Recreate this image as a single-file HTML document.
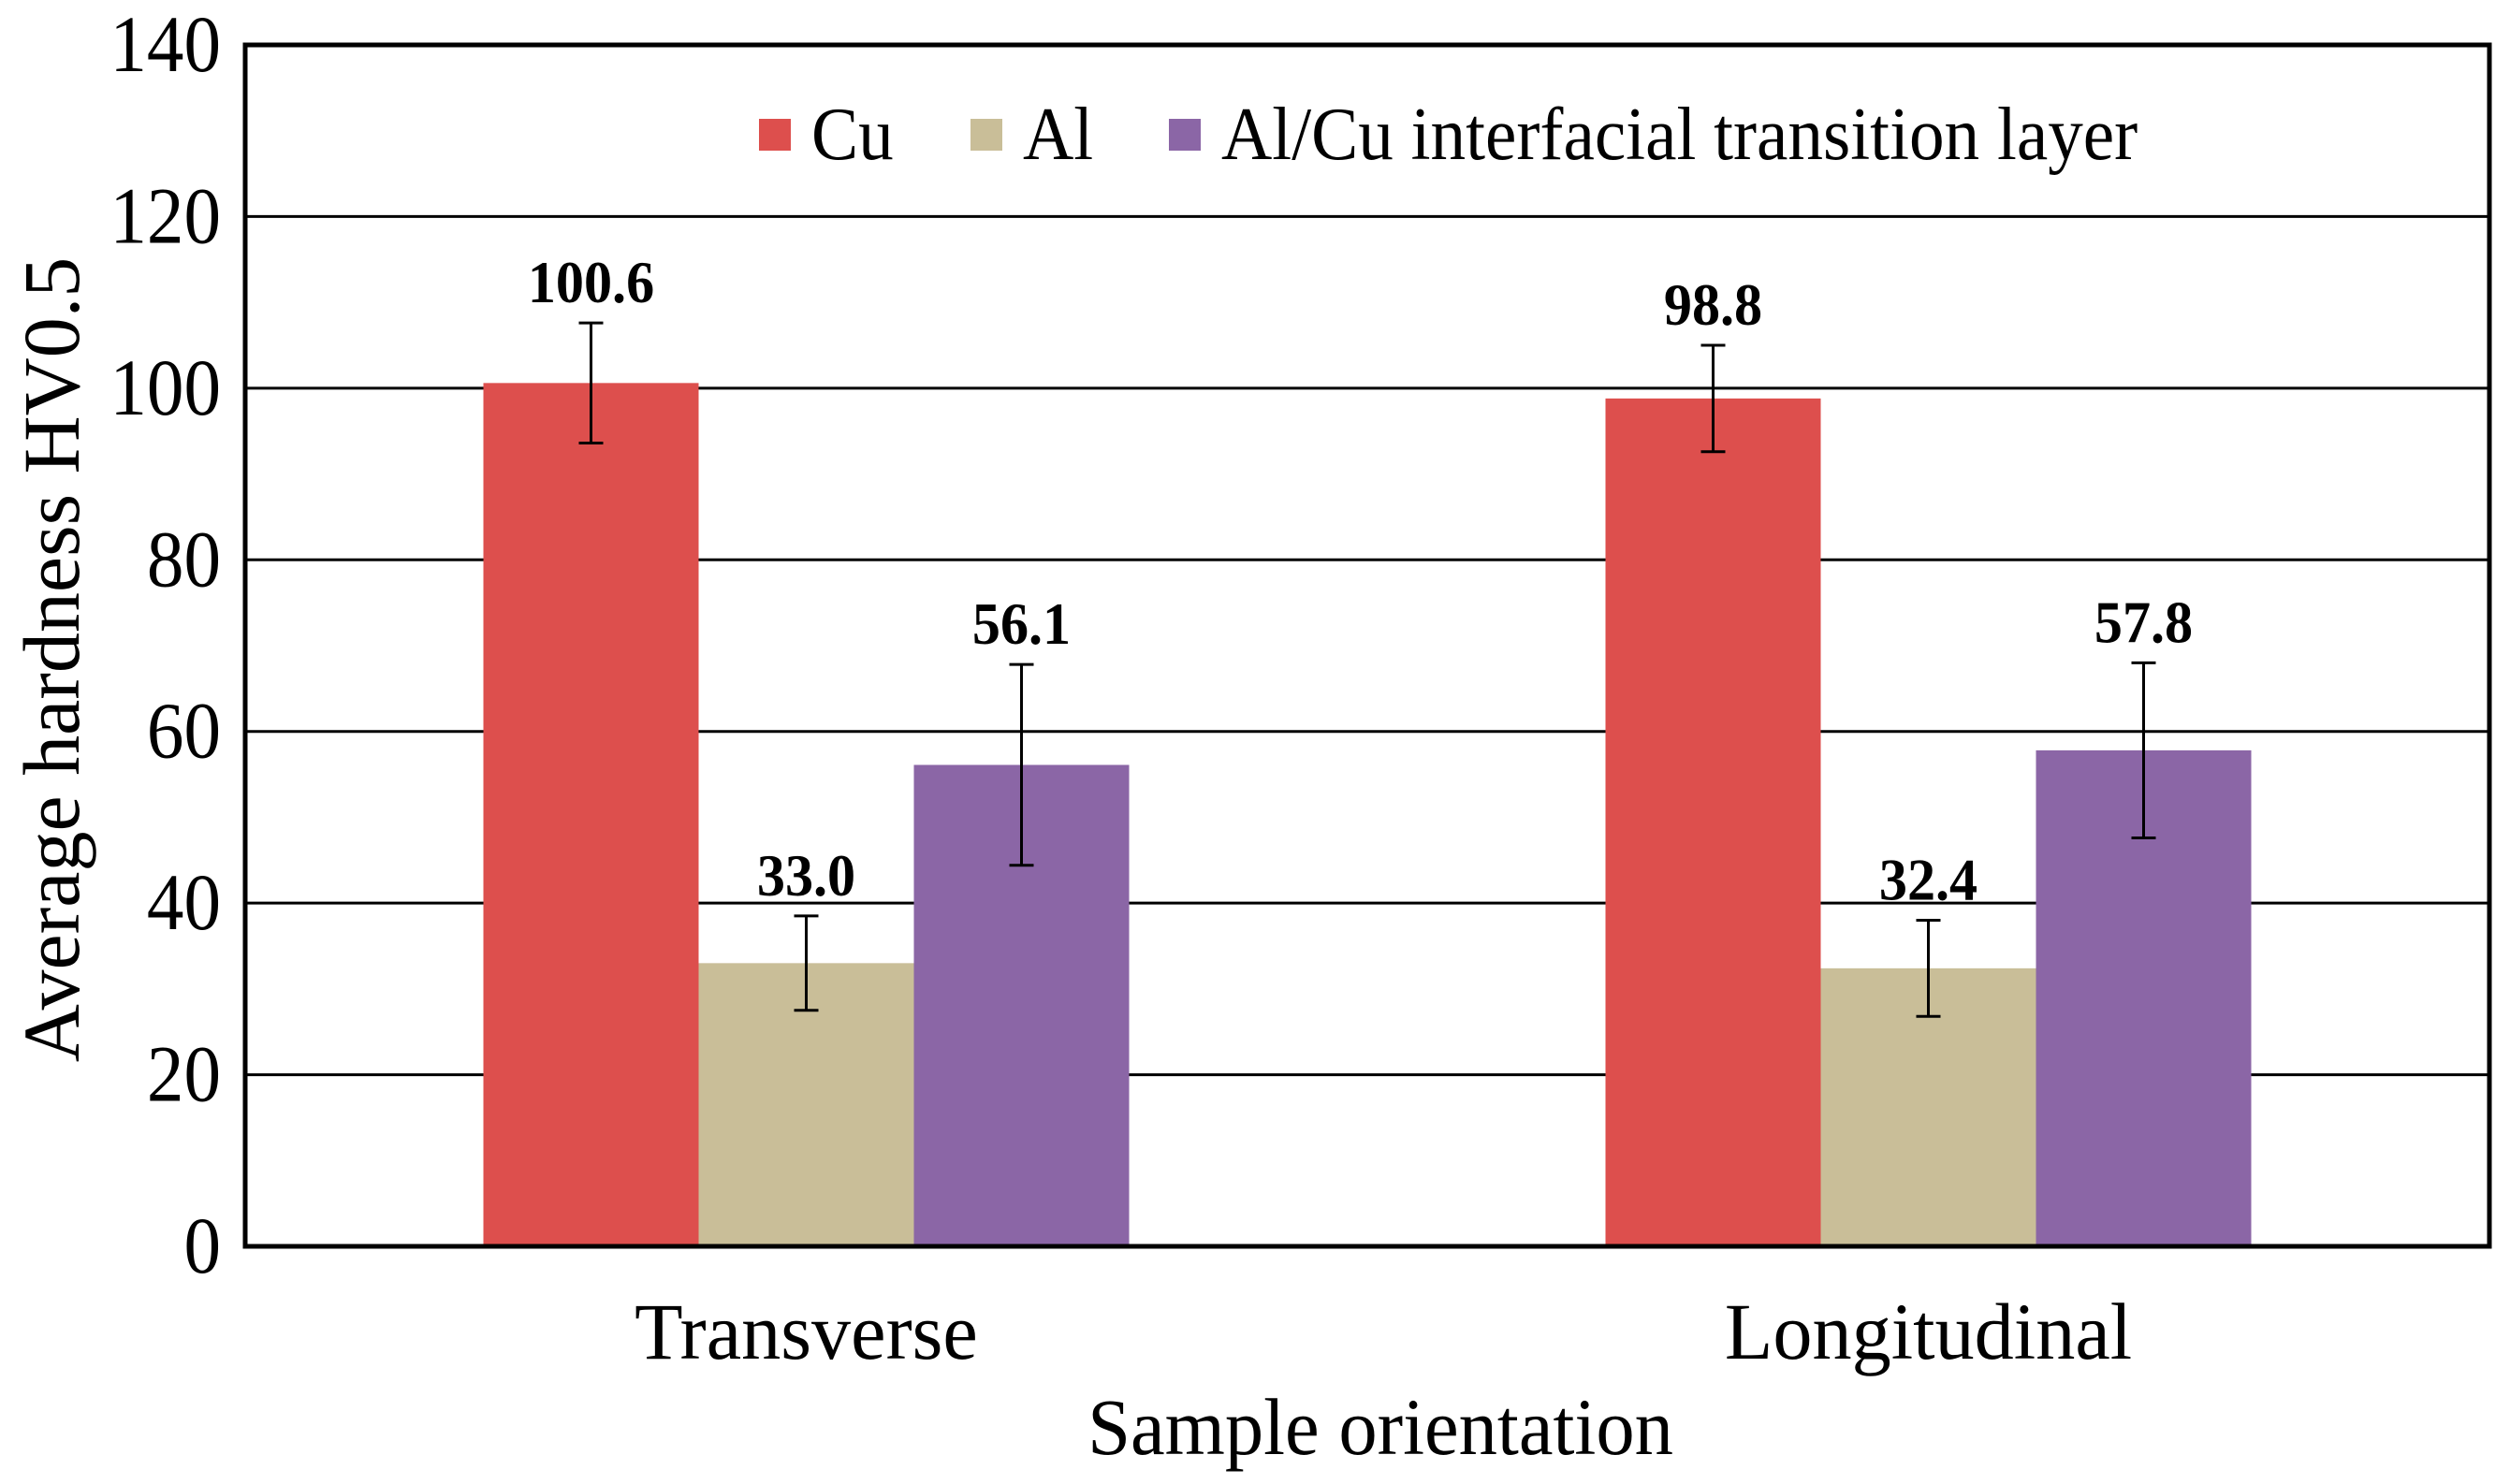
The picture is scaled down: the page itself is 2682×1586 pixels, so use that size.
<!DOCTYPE html>
<html><head><meta charset="utf-8"><style>
html,body{margin:0;padding:0;background:#fff;}
svg{display:block;}
text{font-family:"Liberation Serif","Times New Roman",serif;fill:#000;}
</style></head><body>
<svg id="chart" width="2682" height="1586" viewBox="0 0 2682 1586" xmlns="http://www.w3.org/2000/svg"></svg>
<script>
const categories = ["Transverse", "Longitudinal"];
const seriesNames = ["Cu", "Al", "Al/Cu interfacial transition layer"];
const cuValues = [100.6, 98.8];
const alValues = [33.0, 32.4];
const layerValues = [56.1, 57.8];
const cuErrors = [7.0, 6.2];
const alErrors = [5.5, 5.6];
const layerErrors = [11.7, 10.2];
const yTicks = [0, 20, 40, 60, 80, 100, 120, 140];

const colors = ["#DD4F4D", "#C9BE98", "#8B66A6"];
const NS = "http://www.w3.org/2000/svg";
const svg = document.getElementById("chart");
const L = 262, R = 2660, T = 48, B = 1332;
const yMax = 140;
function yScale(v){ return B - (v / yMax) * (B - T); }
const groupW = (R - L) / categories.length;
const barW = 230;
function barX(ci, si){ return L + groupW * ci + groupW / 2 - 1.5 * barW + si * barW; }

function el(tag, attrs, parent){
  const e = document.createElementNS(NS, tag);
  for (const k in attrs) e.setAttribute(k, attrs[k]);
  (parent || svg).appendChild(e);
  return e;
}
function txt(s, x, y, size, opts, parent){
  opts = opts || {};
  const g = el("g", {transform: "translate(" + x + "," + y + ") scale(" + (opts.sx || 1) + ",1)" + (opts.rot ? " rotate(" + opts.rot + ")" : "")}, parent);
  const t = el("text", {x: 0, y: 0, "font-size": size, "text-anchor": opts.anchor || "start", "font-weight": opts.bold ? "bold" : "normal"}, g);
  t.textContent = s;
  return g;
}

yTicks.forEach(v => {
  if (v === 0 || v === yMax) return;
  const ln = el("line", {x1: L, x2: R, y1: yScale(v), y2: yScale(v), stroke: "#000", "stroke-width": 3});
  
  
});
yTicks.forEach(v => {
  const g = txt(String(v), 236, yScale(v) + 28, 86, {anchor: "end", sx: 0.92});
  
  
});

const allVals = [cuValues, alValues, layerValues];
const allErr = [cuErrors, alErrors, layerErrors];
categories.forEach((c, ci) => {
  allVals.forEach((vals, si) => {
    const v = vals[ci];
    const x = barX(ci, si);
    const r = el("rect", {x: x, y: yScale(v), width: barW, height: B - yScale(v), fill: colors[si]});
    
    
    const cx = x + barW / 2, e = allErr[si][ci];
    const eg = el("g", {stroke: "#000", "stroke-width": 3});
    
    
    el("line", {x1: cx, x2: cx, y1: yScale(v + e), y2: yScale(v - e)}, eg);
    el("line", {x1: cx - 13, x2: cx + 13, y1: yScale(v + e), y2: yScale(v + e)}, eg);
    el("line", {x1: cx - 13, x2: cx + 13, y1: yScale(v - e), y2: yScale(v - e)}, eg);
    const lb = txt(v.toFixed(1), cx, yScale(v + e) - 22, 64, {anchor: "middle", bold: true, sx: 0.94});
    
    
  });
  const cl = txt(c, L + groupW * ci + groupW / 2, 1452, 86, {anchor: "middle", sx: 0.98});
  
  
});

const fr = el("rect", {x: L, y: T, width: R - L, height: B - T, fill: "none", stroke: "#000", "stroke-width": 5});



const legX = [811, 1037, 1249];
const legend = el("g", {});


seriesNames.forEach((n, i) => {
  const sq = el("rect", {x: legX[i], y: 127, width: 34, height: 34, fill: colors[i]}, legend);
  
  
  const t = txt(n, legX[i] + 56, 170, 80, {sx: 0.94}, legend);
  
  
});

const xt = txt("Sample orientation", 1475, 1554, 86, {anchor: "middle", sx: 0.96});


const yt = txt("Average hardness HV0.5", 84, 705, 86, {anchor: "middle", rot: -90});


</script>
</body></html>
